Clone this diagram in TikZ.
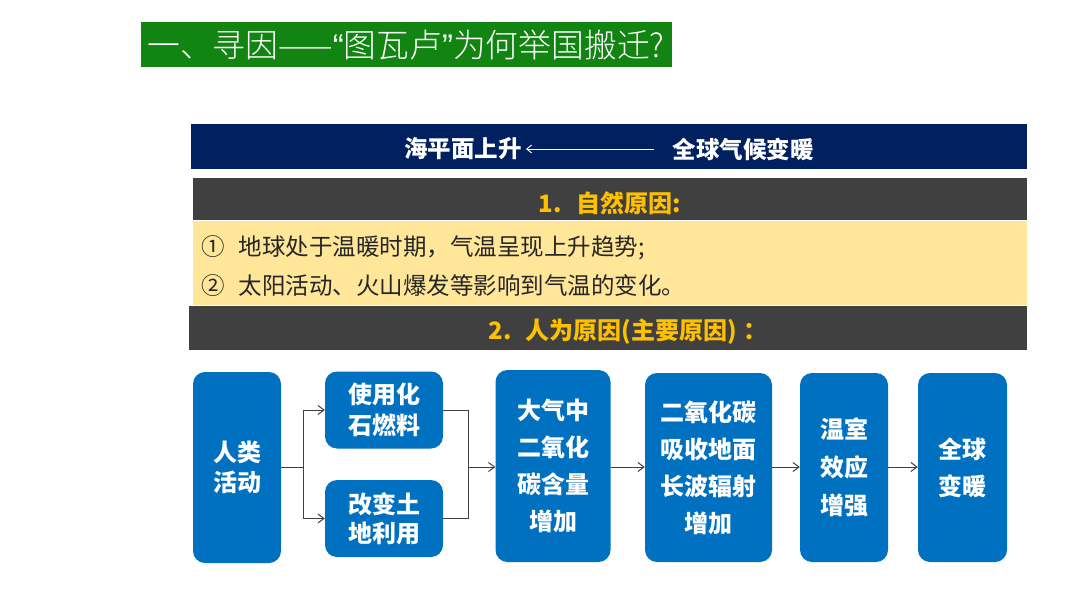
\documentclass[tikz,border=0pt]{standalone}
\usepackage{fontspec}
\setmainfont{Noto Sans CJK SC}
\newfontfamily\lightcjk{Noto Sans CJK SC Light}
\newfontfamily\latinq{Liberation Sans}
\usetikzlibrary{arrows.meta}
\definecolor{titlegreen}{RGB}{18,132,18}
\definecolor{navy}{RGB}{0,32,96}
\definecolor{darkgray}{RGB}{64,64,64}
\definecolor{lightyellow}{RGB}{255,230,153}
\definecolor{gold}{RGB}{255,192,0}
\definecolor{boxblue}{RGB}{0,112,192}
\definecolor{linegray}{RGB}{64,64,64}
\definecolor{textdark}{RGB}{38,38,38}
\tikzset{
  bar/.style={fill=#1, draw=none, inner sep=0pt, anchor=north west},
  flowbox/.style={fill=boxblue, draw=none, rounded corners=12pt, text=white,
    font=\bfseries\fontsize{24}{#1}\selectfont, align=center, inner sep=0pt},
  conn/.style={draw=linegray, line width=1pt},
  arr/.style={conn, -{Straight Barb[length=6pt,width=9pt,line width=1pt]}},
  goldtext/.style={text=gold, font=\bfseries\fontsize{24}{28}\selectfont, inner sep=0pt},
  bandtext/.style={anchor=west, text=textdark, font=\fontsize{23.5}{28}\selectfont, inner sep=0pt},
}
\begin{document}
\begin{tikzpicture}[x=1pt,y=-1pt]
\useasboundingbox (0,0) rectangle (1080,608);
\fill[white] (0,0) rectangle (1080,608);
% title
\node[bar=titlegreen, minimum width=531pt, minimum height=45pt] (titlebar) at (141,22) {};
\node[anchor=west, text=white, font=\lightcjk\fontsize{32.8}{36}\selectfont, inner sep=0pt] (title) at (147,44.5) {一、寻因——{\latinq “}图瓦卢{\latinq ”}为何举国搬迁?};
% navy bar
\node[bar=navy, minimum width=836pt, minimum height=45pt] (navybar) at (191,124) {};
\node[text=white, font=\bfseries\fontsize{23.5}{28}\selectfont, inner sep=0pt] (sea) at (463,149) {海平面上升};
\node[text=white, font=\bfseries\fontsize{23.5}{28}\selectfont, inner sep=0pt] (glob) at (743,149) {全球气候变暖};
\draw[white, line width=0.9pt, -{Straight Barb[length=5pt,width=8pt,line width=0.9pt]}] ([xshift=-18pt]glob.west) -- ([xshift=4pt]sea.east);
% natural causes
\node[bar=darkgray, minimum width=834pt, minimum height=42pt] (bar1) at (193,178) {};
\node[goldtext] (h1) at (610,203) {1.\hspace{15pt}自然原因:};
\node[bar=lightyellow, minimum width=834pt, minimum height=84pt] (yband) at (193,221) {};
\node[bandtext] (l1) at (201,248) {①\hspace{14pt}地球处于温暖时期，气温呈现上升趋势;};
\node[bandtext] (l2) at (201,286) {②\hspace{14pt}太阳活动、火山爆发等影响到气温的变化。};
% human causes
\node[bar=darkgray, minimum width=838pt, minimum height=44pt] (bar2) at (189,306) {};
\node[goldtext] (h2) at (628,332) {2.\hspace{14pt}人为原因(主要原因)\hspace{7pt}：};
% flow boxes
\node[flowbox=30, minimum width=88pt, minimum height=191pt] (ren) at (237,467.5) {人类\\活动};
\node[flowbox=31, minimum width=118pt, minimum height=77pt] (fossil) at (384,410) {使用化\\石燃料};
\node[flowbox=29, minimum width=118pt, minimum height=77pt] (land) at (384,518.5) {改变土\\地利用};
\node[flowbox=37, minimum width=115pt, minimum height=192pt] (co2) at (553,466) {大气中\\二氧化\\碳含量\\增加};
\node[flowbox=37, minimum width=127pt, minimum height=189pt] (absorb) at (708.5,467.5) {二氧化碳\\吸收地面\\长波辐射\\增加};
\node[flowbox=38, minimum width=88pt, minimum height=189pt] (ghe) at (844,467.5) {温室\\效应\\增强};
\node[flowbox=37, minimum width=89pt, minimum height=189pt] (warm) at (962.5,467.5) {全球\\变暖};
% connectors
\coordinate (fork) at (303,467);
\coordinate (join) at (468,467);
\draw[conn] (ren.east |- fork) -- (fork);
\draw[arr] (fork) |- (fossil.west);
\draw[arr] (fork) |- (land.west);
\draw[conn] (fossil.east) -| (join);
\draw[conn] (land.east) -| (join);
\draw[arr] (join) -- (co2.west |- join);
\draw[arr] (co2.east |- join) -- (absorb.west |- join);
\draw[arr] (absorb.east |- join) -- (ghe.west |- join);
\draw[arr] (ghe.east |- join) -- (warm.west |- join);
\end{tikzpicture}
\end{document}
